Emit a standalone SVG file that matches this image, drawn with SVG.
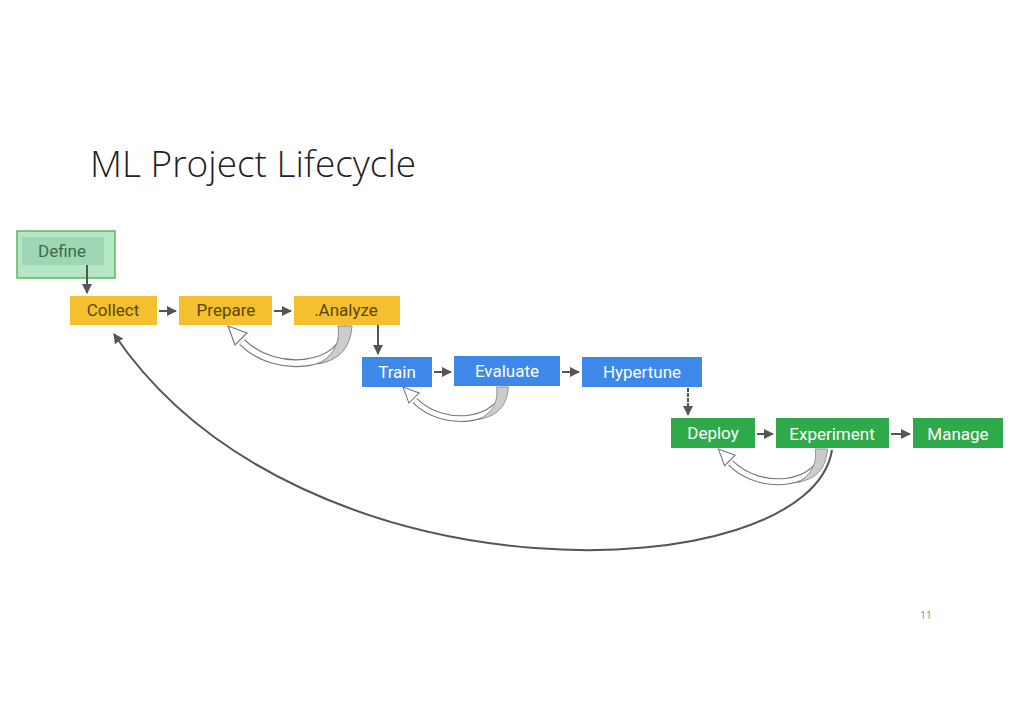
<svg xmlns="http://www.w3.org/2000/svg" width="1024" height="724" viewBox="0 0 1024 724">
<defs>
<style>
.t{font-family:Roboto,"Liberation Sans",sans-serif;font-size:17px;text-anchor:middle}
.y{fill:#f5c02f}.b{fill:#3d88e8}.g{fill:#2faa4b}
.c{stroke:#555;stroke-width:2;fill:none}
</style>
<marker id="a" viewBox="0 0 10 10" refX="9" refY="5" markerWidth="5" markerHeight="5" orient="auto"><path d="M0,0L10,5L0,10z" fill="#555"/></marker>
<g id="loop">
<path d="M0,0 C-4,42 -72,50 -106,16" fill="none" stroke="#777" stroke-width="8"/>
<path d="M0,0 C-4,42 -72,50 -106,16" fill="none" stroke="#fff" stroke-width="5.5"/>
<path d="M-10,0 L4,0 C2,24 -10,34 -30,38 C-12,28 -8,14 -10,0z" fill="#ccc" stroke="#888" stroke-width="1"/>
<polygon points="-120,0 -101,7 -113,19" fill="#fff" stroke="#777" stroke-width="1.2"/>
</g>
</defs>
<rect width="1024" height="724" fill="#fff"/>
<text x="90" y="177" font-family="'Open Sans','Liberation Sans',sans-serif" font-weight="300" font-size="37" fill="#222">ML Project Lifecycle</text>
<text x="926" y="619" font-family="'Open Sans','Liberation Sans',sans-serif" font-size="10" fill="#888" text-anchor="middle">11</text>
<g id="define"><rect x="17" y="231" width="98" height="47" fill="#b5e6c6" stroke="#5cb85c" stroke-width="1.5"/><rect x="22" y="237" width="82" height="28" fill="#9fd6b4"/><text class="t" x="62" y="257" fill="#3d6b50">Define</text></g>
<g id="collect"><rect class="y" x="70" y="296" width="87" height="29"/><text class="t" x="113" y="316" fill="#5a4500">Collect</text></g>
<g id="prepare"><rect class="y" x="179" y="296" width="93" height="29"/><text class="t" x="226" y="316" fill="#5a4500">Prepare</text></g>
<g id="analyze"><rect class="y" x="294" y="296" width="106" height="29"/><text class="t" x="346" y="316" fill="#5a4500">.Analyze</text></g>
<g id="train"><rect class="b" x="362" y="357" width="70" height="30"/><text class="t" x="397" y="378" fill="#fff">Train</text></g>
<g id="evaluate"><rect class="b" x="454" y="356" width="106" height="30"/><text class="t" x="507" y="377" fill="#fff">Evaluate</text></g>
<g id="hypertune"><rect class="b" x="582" y="357" width="120" height="30"/><text class="t" x="642" y="378" fill="#fff">Hypertune</text></g>
<g id="deploy"><rect class="g" x="671" y="418" width="84" height="30"/><text class="t" x="713" y="439" fill="#fff">Deploy</text></g>
<g id="experiment"><rect class="g" x="776" y="418" width="113" height="30"/><text class="t" x="832" y="440" fill="#fff">Experiment</text></g>
<g id="manage"><rect class="g" x="913" y="418" width="90" height="30"/><text class="t" x="958" y="440" fill="#fff">Manage</text></g>
<g id="connectors">
<path class="c" d="M87,265V293" marker-end="url(#a)"/>
<path class="c" d="M159,311H176" marker-end="url(#a)"/>
<path class="c" d="M274,311H291" marker-end="url(#a)"/>
<path class="c" d="M378,325V354" marker-end="url(#a)"/>
<path class="c" d="M434,372H451" marker-end="url(#a)"/>
<path class="c" d="M562,372H579" marker-end="url(#a)"/>
<path class="c" d="M688,388V415" stroke-dasharray="4 1" marker-end="url(#a)"/>
<path class="c" d="M757,434H773" marker-end="url(#a)"/>
<path class="c" d="M891,434H910" marker-end="url(#a)"/>
<use href="#loop" transform="translate(348 326)"/>
<use href="#loop" transform="translate(505 387) scale(0.85)"/>
<use href="#loop" transform="translate(824 449) scale(0.88)"/>
<path class="c" d="M832,450 C810,590 300,610 114,334" marker-end="url(#a)"/>
</g>
</svg>
